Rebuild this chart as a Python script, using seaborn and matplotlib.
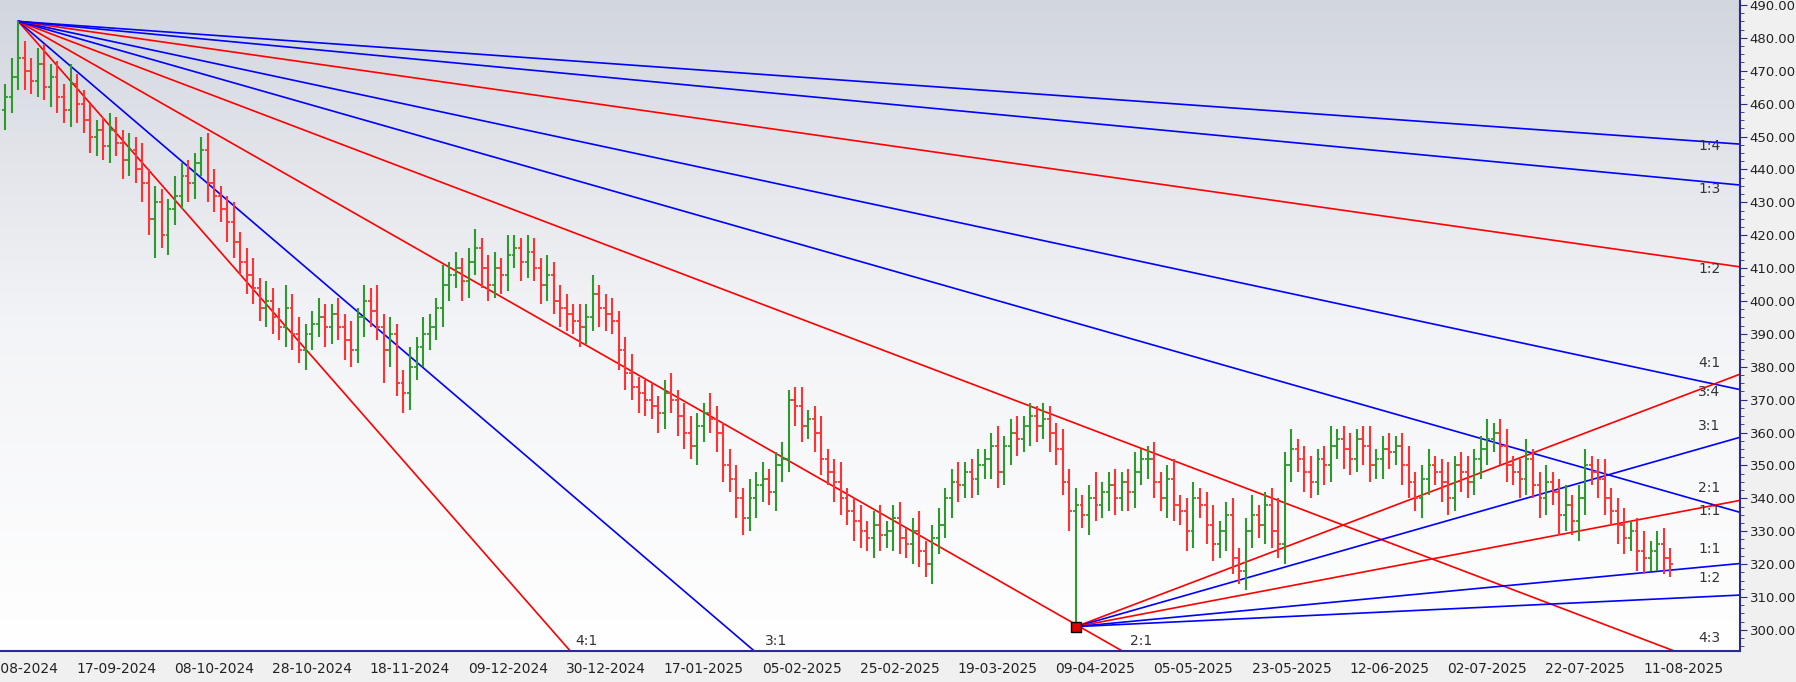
import numpy as np
import pandas as pd
import matplotlib
matplotlib.use("Agg")
import matplotlib.pyplot as plt
import seaborn as sns

sns.set_style("white")
plt.rcParams['font.family'] = ['DejaVu Sans']

start_index = -2
closes = [
    462, 468, 474, 470, 467,
    472, 465, 468, 462, 458,
    466, 460, 455, 450, 452,
    447, 452, 448, 443, 446,
    440, 436, 425, 430, 420,
    428, 432, 438, 436, 442,
    446, 436, 432, 428, 424,
    418, 412, 408, 404, 398,
    400, 395, 392, 398, 390,
    385, 390, 393, 395, 392,
    396, 392, 388, 385, 395,
    400, 397, 392, 385, 390,
    375, 372, 380, 386, 390,
    392, 398, 405, 408, 410,
    406, 412, 416, 410, 405,
    410, 408, 414, 416, 412,
    415, 410, 405, 408, 400,
    398, 396, 394, 392, 395,
    402, 398, 396, 394, 385,
    378, 374, 372, 370, 368,
    366, 372, 370, 365, 360,
    356, 362, 366, 364, 360,
    350, 346, 340, 334, 340,
    344, 346, 342, 350, 352,
    370, 368, 362, 364, 360,
    352, 348, 345, 340, 336,
    333, 330, 328, 332, 329,
    330, 334, 328, 326, 330,
    324, 320, 328, 332, 340,
    345, 344, 348, 346, 350,
    352, 356, 348, 356, 360,
    358, 362, 365, 362, 364,
    360, 355, 345, 336, 338,
    335, 340, 338, 342, 344,
    340, 345, 342, 348, 352,
    352, 345, 340, 346, 338,
    336, 330, 340, 338, 332,
    326, 330, 335, 322, 318,
    330, 335, 332, 338, 330,
    326, 350, 355, 352, 348,
    345, 352, 350, 356, 358,
    355, 352, 358, 356, 350,
    352, 355, 354, 356, 350,
    345, 340, 346, 350, 348,
    345, 340, 350, 348, 345,
    352, 355, 358, 360, 356,
    350, 348, 346, 352, 344,
    340, 345, 342, 335, 338,
    333, 340, 350, 348, 346,
    340, 336, 332, 328, 330,
    324, 322, 324, 326, 322,
    320,
]
high_ext = [
    4, 6, 11, 5, 4, 5, 6, 4, 5, 4, 6, 3, 4, 5, 3, 4,
    5, 4, 4, 5, 4, 8, 4, 5, 4, 3, 6, 4, 5, 3, 4, 5,
    4, 3, 4, 6, 3, 4, 5, 3, 6, 4, 3, 7, 4, 5, 3, 4,
    6, 4, 3, 5, 4, 6, 3, 5, 4, 8, 4, 5, 3, 4, 6, 3,
    5, 4, 3, 6, 4, 5, 3, 4, 6, 3, 4, 5, 3, 6, 4, 3,
    5, 4, 3, 6, 4, 5, 4, 3, 5, 4, 6, 3, 4, 5, 3, 4,
    6, 3, 4, 5, 3, 4, 6, 3, 4, 5, 4, 3, 6, 4, 3, 5,
    4, 3, 6, 4, 5, 3, 4, 5, 3, 4, 6, 3, 4, 5, 3, 4,
    6, 3, 4, 5, 3, 4, 6, 3, 4, 5, 3, 4, 6, 3, 4, 5,
    3, 4, 6, 3, 4, 5, 3, 4, 6, 3, 4, 5, 3, 4, 3, 5,
    4, 3, 6, 4, 5, 3, 4, 8, 3, 4, 5, 3, 4, 6, 3, 4,
    5, 3, 4, 6, 3, 4, 5, 3, 4, 6, 3, 4, 5, 3, 4, 6,
    3, 4, 5, 10, 4, 6, 3, 4, 5, 3, 4, 6, 3, 4, 5, 3,
    4, 6, 3, 4, 5, 3, 4, 6, 3, 4, 5, 3, 4, 6, 3, 4,
    5, 3, 4, 6, 3, 4, 5, 3, 4, 6, 3, 4, 5, 3, 4, 6,
    3, 4, 5, 3, 4, 6, 3, 4, 5, 3, 4, 6, 3, 4, 5, 3,
]
low_ext = [
    6, 5, 4, 6, 4, 5, 4, 6, 5, 4, 5, 6, 4, 5, 6, 4,
    5, 4, 6, 5, 4, 6, 5, 12, 4, 6, 5, 4, 6, 5, 4, 6,
    5, 4, 6, 5, 4, 6, 5, 4, 6, 5, 4, 6, 5, 4, 6, 5,
    4, 6, 5, 4, 6, 5, 4, 6, 5, 4, 10, 5, 4, 6, 5, 4,
    6, 5, 4, 6, 5, 4, 6, 5, 4, 6, 5, 4, 6, 5, 4, 6,
    5, 4, 6, 5, 4, 6, 5, 4, 6, 5, 4, 6, 5, 4, 6, 5,
    4, 6, 5, 4, 6, 5, 4, 6, 5, 4, 6, 5, 4, 6, 5, 4,
    6, 5, 4, 6, 5, 4, 6, 5, 4, 6, 5, 4, 6, 5, 4, 6,
    5, 4, 6, 5, 4, 6, 5, 4, 6, 5, 4, 6, 5, 4, 6, 5,
    4, 6, 5, 4, 6, 5, 4, 6, 5, 4, 6, 5, 4, 6, 5, 4,
    6, 5, 4, 6, 35, 4, 6, 5, 4, 6, 5, 4, 6, 5, 4, 6,
    5, 4, 6, 5, 4, 6, 5, 4, 6, 5, 4, 6, 5, 4, 6, 5,
    4, 6, 5, 4, 6, 5, 4, 6, 5, 4, 6, 5, 4, 6, 5, 4,
    6, 5, 4, 6, 5, 4, 6, 5, 4, 6, 5, 4, 6, 5, 4, 6,
    5, 4, 6, 5, 4, 6, 5, 4, 6, 5, 4, 6, 5, 4, 6, 5,
    4, 6, 5, 4, 6, 5, 4, 6, 5, 4, 6, 5, 4, 6, 5, 4,
]
date_labels = ["27-08-2024", "17-09-2024", "08-10-2024", "28-10-2024", "18-11-2024",
               "09-12-2024", "30-12-2024", "17-01-2025", "05-02-2025", "25-02-2025",
               "19-03-2025", "09-04-2025", "05-05-2025", "23-05-2025", "12-06-2025",
               "02-07-2025", "22-07-2025", "11-08-2025"]
date_positions = [0, 15, 30, 45, 60, 75, 90, 105, 120, 135, 150, 165, 180, 195, 210, 225, 240, 255]

fan_unit = 0.566
top_ratios = [4, 3, 2, 4/3, 1, 3/4, 1/2, 1/3, 1/4]
top_colors = ["red", "blue", "red", "red", "blue", "blue", "red", "blue", "blue"]
bot_ratios = [4/3, 1, 2/3, 1/3, 1/6]
bot_colors = ["red", "blue", "red", "blue", "blue"]
right_labels = ["1:4", "1:3", "1:2", "4:1", "3:4", "3:1", "2:1", "1:1", "1:1", "1:2", "4:3"]
right_label_prices = [445, 432, 407.5, 379, 370.3, 360, 341, 334, 322.5, 313.8, 295.5]
bottom_labels = ["4:1", "3:1", "2:1"]
bottom_label_x = [85, 114, 170]

n = len(closes)
idx = np.arange(start_index, start_index + n)
c = np.array(closes, float)
o = np.concatenate([[c[0] - 4], c[:-1]])
h = np.maximum(o, c) + np.array(high_ext[:n])
l = np.minimum(o, c) - np.array(low_ext[:n])
df = pd.DataFrame({"i": idx, "open": o, "high": h, "low": l, "close": c})

XMIN, XMAX, YMIN, YMAX = -2.8, 263.7, 293.6, 491.5
fig = plt.figure(figsize=(17.96, 6.82), dpi=100)
fig.patch.set_facecolor("#f0f0f0")
ax = fig.add_axes([0.0, 0.0455, 0.9688, 0.9545])
grad = np.linspace(0, 1, 256).reshape(-1, 1)
from matplotlib.colors import LinearSegmentedColormap
cmap = LinearSegmentedColormap.from_list("g", ["#ffffff", "#f3f4f7", "#d2d6de"])
ax.imshow(grad, aspect="auto", cmap=cmap, origin="lower",
          extent=[XMIN, XMAX, YMIN, YMAX], zorder=0)

up = df[df.close >= df.open]
dn = df[df.close < df.open]
for sub, col in [(up, "#2e9a2e"), (dn, "#ff3333")]:
    ax.vlines(sub.i, sub.low, sub.high, color=col, lw=1.5, zorder=3)
    ax.hlines(sub.open, sub.i - 0.45, sub.i, color=col, lw=1.3, zorder=3)
    ax.hlines(sub.close, sub.i, sub.i + 0.45, color=col, lw=1.3, zorder=3)

ti = int(df.i[df.high.idxmax()]); tp = float(df.high.max())
bi = int(df.i[df.low.idxmin()]); bp = float(df.low.min())
xs = np.array([ti, XMAX + 5])
for r, col in zip(top_ratios, top_colors):
    ys = tp - fan_unit * r * (xs - ti)
    sns.lineplot(x=xs, y=ys, color=col, lw=1.2, ax=ax, zorder=2)
xs = np.array([bi, XMAX + 5])
for r, col in zip(bot_ratios, bot_colors):
    ys = bp + fan_unit * r * (xs - bi)
    sns.lineplot(x=xs, y=ys, color=col, lw=1.2, ax=ax, zorder=2)
ax.plot([bi], [bp], marker="s", ms=7, mfc="#e00000", mec="black", mew=1, zorder=5)

for t, p in zip(right_labels, right_label_prices):
    ax.text(XMAX - 3, p, t, ha="right", va="bottom", fontsize=10, color="#333333", zorder=6)
for t, x in zip(bottom_labels, bottom_label_x):
    ax.text(x + 2, YMIN + 0.8, t, ha="center", va="bottom", fontsize=10, color="#333333", zorder=6)

ax.set_xlim(XMIN, XMAX); ax.set_ylim(YMIN, YMAX)
ax.yaxis.tick_right()
ax.set_yticks(np.arange(300, 491, 10))
ax.set_yticklabels([f"{v:.2f}" for v in np.arange(300, 491, 10)], fontsize=9.5, color="#222222")
ax.set_yticks(np.arange(295, 491, 2.5), minor=True)
ax.set_xticks(date_positions)
ax.set_xticklabels(date_labels, fontsize=10, color="#222222")
ax.set_xticks(np.arange(0, 264, 3), minor=True)
ax.tick_params(axis="both", which="major", length=5, color="#2a2a90", direction="out")
ax.tick_params(axis="both", which="minor", length=3, color="#2a2a90", direction="out")
ax.tick_params(axis="y", pad=2)
ax.tick_params(axis="x", pad=3)
for s in ["top", "left"]:
    ax.spines[s].set_visible(False)
for s in ["right", "bottom"]:
    ax.spines[s].set_color("#2a2a90"); ax.spines[s].set_linewidth(1.5)
ax.set_xlabel(""); ax.set_ylabel("")
fig.savefig("out.png", dpi=100, facecolor=fig.get_facecolor())
